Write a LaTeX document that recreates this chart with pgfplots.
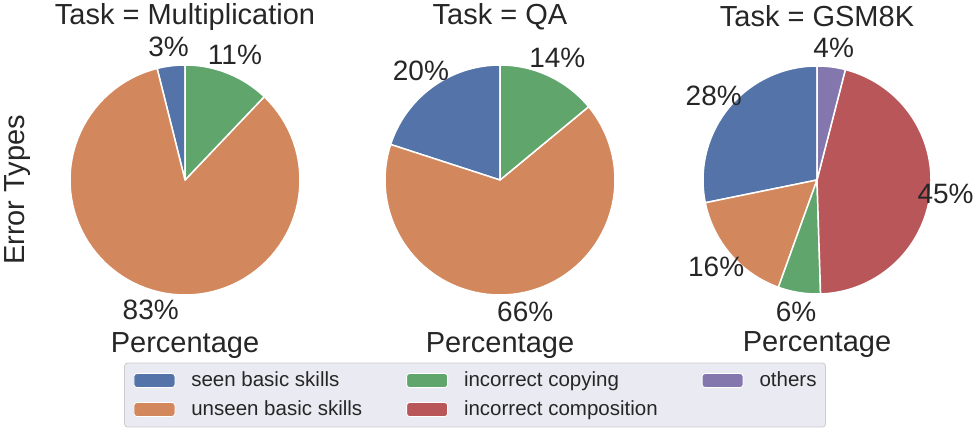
\documentclass[border=0pt]{standalone}
\usepackage{fontspec}
\setmainfont{Liberation Sans}
\usepackage{pgfplots}
\pgfplotsset{compat=1.18}
\definecolor{sbblue}{HTML}{5474A9}
\definecolor{sborange}{HTML}{D3875D}
\definecolor{sbgreen}{HTML}{5FA56C}
\definecolor{sbred}{HTML}{B9565A}
\definecolor{sbpurple}{HTML}{8477AE}
\definecolor{txt}{HTML}{262626}
\definecolor{legbg}{HTML}{EAEAF2}
\definecolor{legedge}{HTML}{CCCCCC}
\newcommand\pctfont{\fontsize{28}{33}\selectfont}
\newcommand\labfont{\fontsize{29}{34}\selectfont}
% wedge: colour, cumulative start (%), cumulative end (%)
\newcommand\pwedge[3]{%
  \addplot[fill=#1, draw=white, line width=1.5pt, line join=round,
    domain=90+3.6*#2:90+3.6*#3, samples=90]
    ({cos(x)},{sin(x)}) -- (axis cs:0,0) -- cycle;}
% label: [distance] cumulative start, cumulative end, text
\newcommand\plabel[4][1.17]{%
  \node[font=\pctfont, text=txt, inner sep=0pt]
    at (axis cs:{#1*cos(90+1.8*(#2+#3))},{#1*sin(90+1.8*(#2+#3))}) {#4};}
\pgfplotsset{pie/.style={
  width=230pt, height=230pt, scale only axis,
  xmin=-1, xmax=1, ymin=-1, ymax=1,
  axis line style={draw=none}, ticks=none, clip=false,
  every axis title shift=0pt,
  title style={font=\labfont, text=txt, at={(0.5,1.174)}, anchor=base},
  xlabel=Percentage,
  xlabel style={font=\labfont, text=txt, at={(0.5,-0.252)}, anchor=base},
}}
\begin{document}
\begin{tikzpicture}
\path[use as bounding box] (0,0) rectangle (976pt,431pt);
% Multiplication
\begin{axis}[pie, at={(185pt,251pt)}, anchor=center,
  title={Task = Multiplication}, ylabel={Error Types},
  ylabel style={font=\labfont, text=txt, at={(-0.196,0.457)}, anchor=base}]
\pwedge{sbblue}{0}{3.9}
\pwedge{sborange}{3.9}{87.9}
\pwedge{sbgreen}{87.9}{100}
\plabel{0}{3.9}{3\%}
\plabel{3.9}{87.9}{83\%}
\plabel{87.9}{100}{11\%}
\end{axis}
% QA
\begin{axis}[pie, at={(500pt,251pt)}, anchor=center, title={Task = QA}]
\pwedge{sbblue}{0}{20}
\pwedge{sborange}{20}{86}
\pwedge{sbgreen}{86}{100}
\plabel{0}{20}{20\%}
\plabel{20}{86}{66\%}
\plabel{86}{100}{14\%}
\end{axis}
% GSM8K
\begin{axis}[pie, at={(817pt,251pt)}, anchor=center, title={Task = GSM8K},
  width=228pt, height=228pt]
\pwedge{sbblue}{0}{28.2}
\pwedge{sborange}{28.2}{44.5}
\pwedge{sbgreen}{44.5}{50.5}
\pwedge{sbred}{50.5}{96.0}
\pwedge{sbpurple}{96.0}{100}
\plabel{0}{28.2}{28\%}
\plabel{28.2}{44.5}{16\%}
\plabel{44.5}{50.5}{6\%}
\plabel[1.135]{50.5}{96.0}{45\%}
\plabel{96.0}{100}{4\%}
\end{axis}
% legend
\begin{axis}[at={(0pt,0pt)}, anchor=south west, width=976pt, height=431pt,
  scale only axis, hide axis, xmin=0, xmax=1, ymin=0, ymax=1,
  legend columns=3, legend cell align=left,
  legend image code/.code={\draw[#1, draw=white, line width=0.8pt] (0pt,-7pt) rectangle (41pt,7pt);},
  legend style={at={(0.4867,0.0835)}, anchor=center,
    fill=legbg, draw=legedge, rounded corners=3pt, line width=0.8pt,
    inner xsep=9pt, inner ysep=8pt,
    font=\fontsize{20.5}{24}\selectfont, text=txt,
    nodes={inner sep=0pt, text height=15pt, text depth=4pt},
    row sep=10pt,
    /tikz/every odd column/.append style={column sep=16pt},
    /tikz/every even column/.append style={column sep=44pt}}]
\addlegendimage{fill=sbblue}\addlegendentry{seen basic skills}
\addlegendimage{fill=sbgreen}\addlegendentry{incorrect copying}
\addlegendimage{fill=sbpurple}\addlegendentry{others}
\addlegendimage{fill=sborange}\addlegendentry{unseen basic skills}
\addlegendimage{fill=sbred}\addlegendentry{incorrect composition}
\end{axis}
\end{tikzpicture}
\end{document}
